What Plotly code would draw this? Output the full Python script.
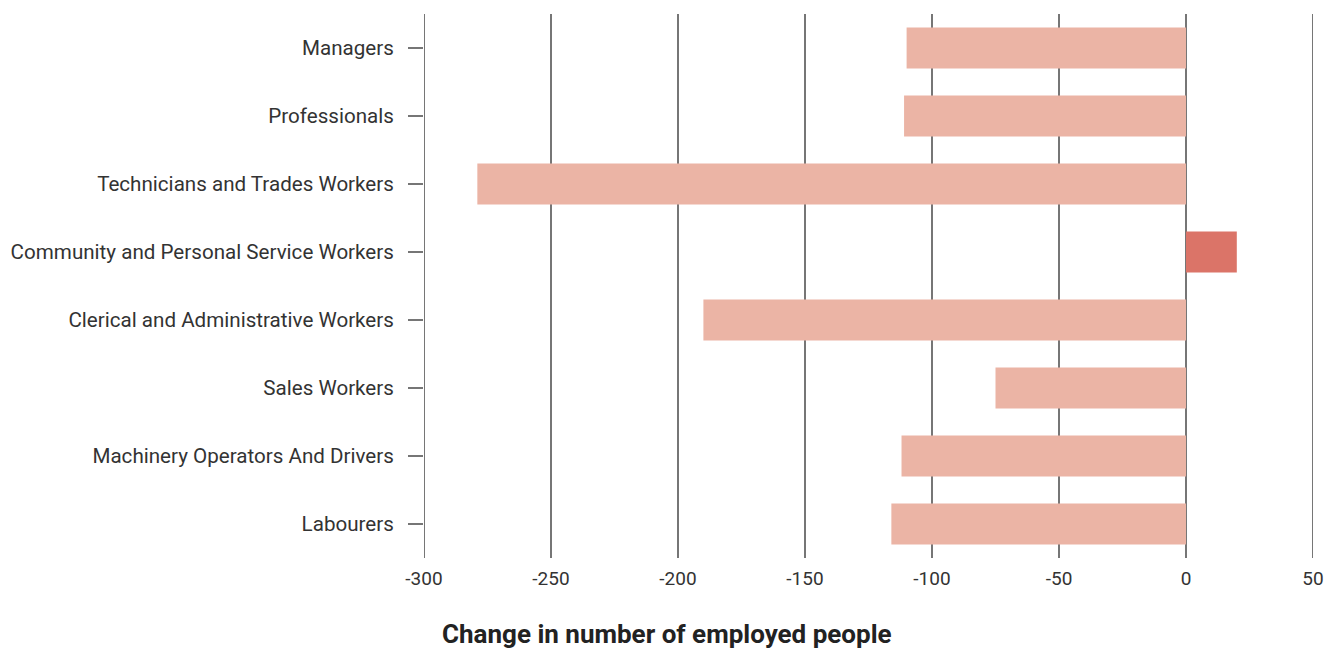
import plotly.graph_objects as go

categories = ["Managers", "Professionals", "Technicians and Trades Workers",
              "Community and Personal Service Workers", "Clerical and Administrative Workers",
              "Sales Workers", "Machinery Operators And Drivers", "Labourers"]
values = [-110, -111, -279, 20, -190, -75, -112, -116]
tick_vals = [-300, -250, -200, -150, -100, -50, 0, 50]
tick_text = [str(t) for t in tick_vals]

colors = ["#DB7468" if v > 0 else "#EBB4A5" for v in values]

fig = go.Figure(go.Bar(
    x=values, y=categories, orientation="h",
    marker=dict(color=colors, line=dict(width=0)),
    width=0.6,
))

# vertical gridlines (including range edges), drawn beneath the bars
for t in tick_vals:
    fig.add_shape(type="line", xref="x", yref="paper", x0=t, x1=t, y0=0, y1=1,
                  line=dict(color="#767676", width=2), layer="below")

fig.update_layout(
    width=1340, height=648,
    margin=dict(l=416, r=35, t=6, b=98, autoexpand=False),
    plot_bgcolor="white", paper_bgcolor="white",
    font=dict(family="Roboto", size=20, color="#333333"),
    showlegend=False,
)
fig.add_annotation(
    text="<b>Change in number of employed people</b>",
    xref="paper", yref="paper", x=0.273, y=0, yshift=-76,
    xanchor="center", yanchor="middle", showarrow=False,
    font=dict(size=26, color="#222222"),
)
fig.update_xaxes(
    range=[-300, 50], tickvals=tick_vals, ticktext=tick_text,
    showgrid=False, zeroline=False,
    showline=False, ticks="", ticklabelstandoff=7,
    tickfont=dict(size=19),
)
fig.update_yaxes(
    categoryorder="array", categoryarray=categories[::-1],
    range=[-0.5, 7.5],
    ticks="outside", ticklen=15, tickcolor="#767676", tickwidth=1.5,
    showgrid=False, showline=False, zeroline=False, ticklabelstandoff=10,
    tickfont=dict(size=20.6),
)
fig.write_html("out.html")
